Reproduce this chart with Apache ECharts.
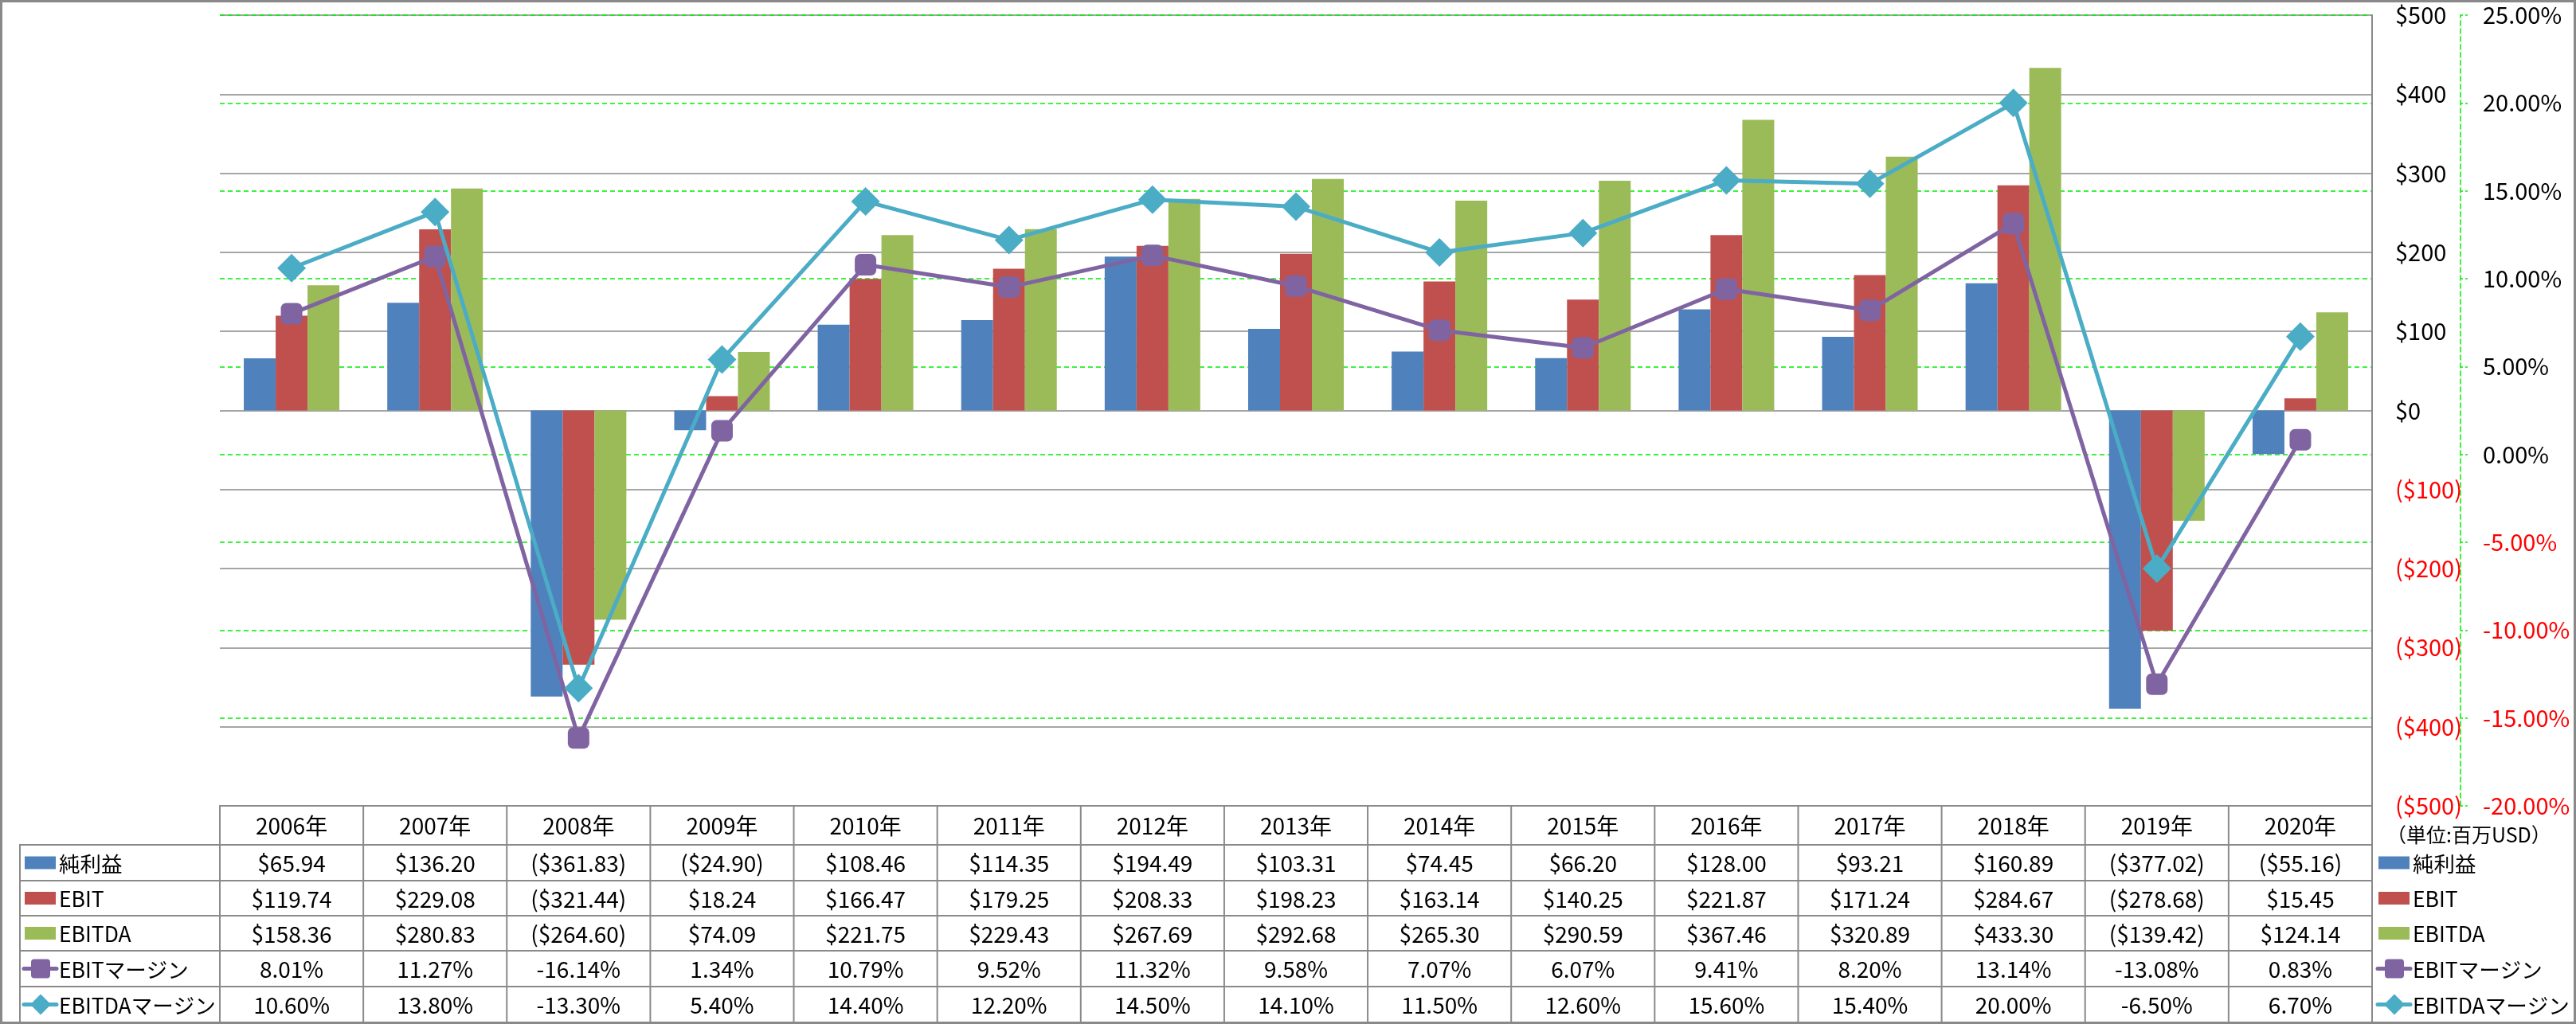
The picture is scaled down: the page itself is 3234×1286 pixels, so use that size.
<!DOCTYPE html>
<html><head><meta charset="utf-8">
<script src="https://cdn.jsdelivr.net/npm/echarts@6/dist/echarts.min.js"></script>
<style>html,body{margin:0;padding:0;background:#fff}#c{width:3234px;height:1286px}</style>
</head><body><div id="c"></div>
<script>
// ---- data ----
const years = ['2006年','2007年','2008年','2009年','2010年','2011年','2012年','2013年','2014年','2015年','2016年','2017年','2018年','2019年','2020年'];
const netIncome = [65.94,136.20,-361.83,-24.90,108.46,114.35,194.49,103.31,74.45,66.20,128.00,93.21,160.89,-377.02,-55.16];
const ebit = [119.74,229.08,-321.44,18.24,166.47,179.25,208.33,198.23,163.14,140.25,221.87,171.24,284.67,-278.68,15.45];
const ebitda = [158.36,280.83,-264.60,74.09,221.75,229.43,267.69,292.68,265.30,290.59,367.46,320.89,433.30,-139.42,124.14];
const ebitMargin = [8.01,11.27,-16.14,1.34,10.79,9.52,11.32,9.58,7.07,6.07,9.41,8.20,13.14,-13.08,0.83];
const ebitdaMargin = [10.60,13.80,-13.30,5.40,14.40,12.20,14.50,14.10,11.50,12.60,15.60,15.40,20.00,-6.50,6.70];
const seriesNames = ['純利益','EBIT','EBITDA','EBITマージン','EBITDAマージン'];
const unitLabel = '（単位:百万USD）';
const usdRange = [-500, 500, 100];
const pctRange = [-20, 25, 5];

const FONT = '"Noto Sans CJK JP", "Noto Sans", sans-serif';
const colors = ['#4F81BD','#C0504D','#9BBB59','#8064A2','#4BACC6'];
const fmtUsd = v => v < 0 ? '($' + Math.abs(v).toFixed(2) + ')' : '$' + v.toFixed(2);
const fmtPct = v => v.toFixed(2) + '%';

const chart = echarts.init(document.getElementById('c'));
const option = {
  animation: false,
  backgroundColor: '#fff',
  textStyle: { fontFamily: FONT },
  grid: { left: 276, right: 256, top: 19, bottom: 274, containLabel: false },
  xAxis: { type: 'category', data: years, show: false },
  yAxis: [
    { type: 'value', position: 'right', min: usdRange[0], max: usdRange[1], interval: usdRange[2],
      axisLine: { show: false }, axisTick: { show: false },
      axisLabel: { margin: 29, fontSize: 29, fontFamily: FONT,
        formatter: v => v < 0 ? '($' + Math.abs(v) + ')' : '$' + v,
        color: v => (+v < 0 ? '#FF0000' : '#000000') },
      splitLine: { show: true, lineStyle: { color: '#888888', width: 1.5 } } },
    { type: 'value', position: 'right', offset: 111, min: pctRange[0], max: pctRange[1], interval: pctRange[2],
      axisLine: { show: true, lineStyle: { color: '#00EE00', type: [6,4], width: 1.5 } },
      axisTick: { show: true, length: 9, lineStyle: { color: '#00EE00', type: [3,3], width: 1.5 } },
      axisLabel: { margin: 28, fontSize: 29, fontFamily: FONT,
        formatter: v => v.toFixed(2) + '%',
        color: v => (+v < 0 ? '#FF0000' : '#000000') },
      splitLine: { show: true, lineStyle: { color: '#00EE00', type: [6,4], width: 1.5 } } }
  ],
  series: [
    { name: seriesNames[0], type: 'bar', data: netIncome, yAxisIndex: 0, barWidth: 40, barGap: '0%', itemStyle: { color: colors[0] } },
    { name: seriesNames[1], type: 'bar', data: ebit, yAxisIndex: 0, barWidth: 40, barGap: '0%', itemStyle: { color: colors[1] } },
    { name: seriesNames[2], type: 'bar', data: ebitda, yAxisIndex: 0, barWidth: 40, barGap: '0%', itemStyle: { color: colors[2] } },
    { name: seriesNames[3], type: 'line', data: ebitMargin, yAxisIndex: 1, z: 3,
      symbol: 'roundRect', symbolSize: 27, lineStyle: { color: colors[3], width: 5 }, itemStyle: { color: colors[3] } },
    { name: seriesNames[4], type: 'line', data: ebitdaMargin, yAxisIndex: 1, z: 4,
      symbol: 'diamond', symbolSize: 36, lineStyle: { color: colors[4], width: 5 }, itemStyle: { color: colors[4] } }
  ]
};
chart.setOption(option);

// ---- data table & legend built with graphic elements ----
const n = years.length;
const c0 = chart.convertToPixel({ xAxisIndex: 0 }, 0);
const c1 = chart.convertToPixel({ xAxisIndex: 0 }, 1);
const step = c1 - c0;
const tLeft = c0 - step / 2;
const tRight = tLeft + step * n;
const plotTop = chart.convertToPixel({ yAxisIndex: 0 }, usdRange[1]);
const plotBottom = chart.convertToPixel({ yAxisIndex: 0 }, usdRange[0]);
const rowY = [plotBottom, 1061, 1106, 1150, 1194, 1239, 1284];
const keyLeft = 25;
const LC = '#8a8a8a';
const els = [];
const txt = (t, x, y, align, size) => ({ type: 'text', z: 10, style: { text: t, x, y, fill: '#000',
  font: (size || 28) + 'px ' + FONT, textAlign: align || 'center', textVerticalAlign: 'middle', align: align || 'center', verticalAlign: 'middle' } });
const ln = (x1, y1, x2, y2, col, w) => ({ type: 'line', z: 9, shape: { x1, y1, x2, y2 }, style: { stroke: col || LC, lineWidth: w || 2, lineCap: 'round' } });

// outer frame
els.push({ type: 'rect', z: 20, shape: { x: 1.5, y: 1.5, width: 3231, height: 1283 }, style: { fill: null, stroke: '#898989', lineWidth: 3 } });
// plot right border
els.push(ln(tRight, plotTop, tRight, plotBottom));
// table horizontal lines
els.push(ln(tLeft, rowY[0], tRight, rowY[0]));
for (let r = 1; r < rowY.length; r++) els.push(ln(keyLeft, rowY[r], tRight, rowY[r]));
// vertical lines
for (let k = 0; k <= n; k++) { const x = tLeft + k * step; els.push(ln(x, rowY[0], x, rowY[6])); }
els.push(ln(keyLeft, rowY[1], keyLeft, rowY[6]));

const rowsData = [netIncome, ebit, ebitda, ebitMargin, ebitdaMargin];
const rowFmt = [fmtUsd, fmtUsd, fmtUsd, fmtPct, fmtPct];
for (let i = 0; i < n; i++) {
  const cx = chart.convertToPixel({ xAxisIndex: 0 }, i);
  els.push(txt(years[i], cx, (rowY[0] + rowY[1]) / 2 + 1));
  for (let r = 0; r < 5; r++) {
    els.push(txt(rowFmt[r](rowsData[r][i]), cx, (rowY[r + 1] + rowY[r + 2]) / 2 + 1));
  }
}

function legendKey(r, x0, textX) {
  const cy = (rowY[r + 1] + rowY[r + 2]) / 2;
  if (r < 3) {
    els.push({ type: 'rect', z: 10, shape: { x: x0 + 3, y: cy - 8, width: 39, height: 16 }, style: { fill: colors[r] } });
  } else {
    els.push(ln(x0 + 2, cy, x0 + 43, cy, colors[r], 5));
    const mx = x0 + 23;
    if (r === 3) {
      els.push({ type: 'rect', z: 11, shape: { x: mx - 12, y: cy - 12, width: 24, height: 24, r: 4 }, style: { fill: colors[r] } });
    } else {
      els.push({ type: 'polygon', z: 11, shape: { points: [[mx, cy - 13], [mx + 13, cy], [mx, cy + 13], [mx - 13, cy]] }, style: { fill: colors[r] } });
    }
  }
  els.push(txt(seriesNames[r], textX, cy + 1, 'left', 26.5));
}
for (let r = 0; r < 5; r++) {
  legendKey(r, 28, 74);
  legendKey(r, tRight + 5, tRight + 51);
}
els.push(txt(unitLabel, tRight + 18, 1048, 'left', 25));

chart.setOption({ graphic: { elements: els } });
</script>
</body></html>
